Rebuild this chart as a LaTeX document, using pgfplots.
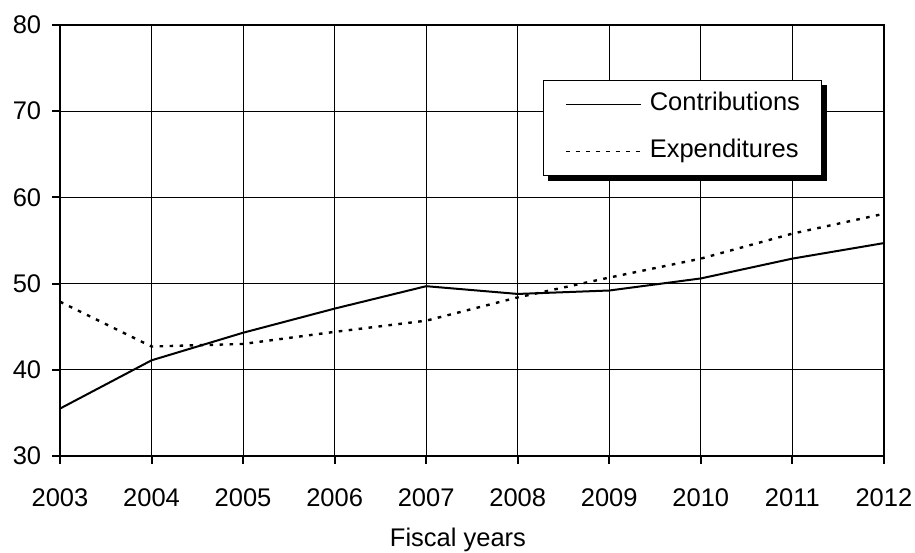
\documentclass[border=0pt]{standalone}
\usepackage{fontspec}
\setmainfont{Liberation Sans}
\usepackage{pgfplots}
\pgfplotsset{compat=1.18}
\usetikzlibrary{backgrounds}

\pgfplotstableread{
year contrib exp
2003 35.5 47.9
2004 41.1 42.7
2005 44.3 43.0
2006 47.1 44.4
2007 49.7 45.7
2008 48.8 48.4
2009 49.2 50.7
2010 50.6 52.9
2011 52.9 55.8
2012 54.7 58.1
}\fundtable

\begin{document}
\begin{tikzpicture}
\begin{axis}[
  at={(30pt,48pt)}, anchor=south west,
  scale only axis,
  width=412pt, height=215.5pt,
  xmin=2003, xmax=2012, ymin=30, ymax=80,
  xtick={2003,...,2012}, ytick={30,40,...,80},
  /pgf/number format/assume math mode=true,
  xticklabel style={/pgf/number format/1000 sep={}, anchor=base, inner sep=0pt, yshift=-21pt},
  yticklabel style={anchor=east, inner sep=0pt, xshift=-5.25pt},
  tick label style={font=\fontsize{12.75}{15}\selectfont},
  grid=major,
  major grid style={black, line width=0.5pt},
  axis line style={line width=1.1pt},
  tick style={black, line width=1pt},
  tick align=outside, major tick length=4pt,
  xtick pos=bottom, ytick pos=left,
  xlabel={Fiscal years},
  xlabel style={font=\fontsize{12.75}{15}\selectfont, at={(axis description cs:0.483,0)}, anchor=base, yshift=-45pt},
  legend style={name=leg, at={(0.586,0.873)}, anchor=north west,
    draw=black, line width=0.8pt, fill=white,
    inner xsep=10.75pt, inner ysep=6pt,
    font=\fontsize{12.75}{15}\selectfont,
    nodes={inner sep=0pt, text height=9pt, text depth=3pt},
    row sep=11.5pt, column sep=4pt},
  legend cell align=left,
  legend image code/.code={\draw[#1, line width=0.8pt] (0pt,0pt) -- (37.5pt,0pt);},
]
\addplot[black, line width=1pt] table[x=year, y=contrib] {\fundtable};
\addlegendentry{Contributions}
\addplot[black, line width=1.2pt, dash pattern=on 1.8pt off 3.2pt] table[x=year, y=exp] {\fundtable};
\addlegendentry{Expenditures}
\end{axis}
% legend shadow
\begin{scope}[on background layer]
\fill[black] ([shift={(2.5pt,-2.5pt)}]leg.south west) rectangle ([shift={(2.5pt,-2.5pt)}]leg.north east);
\end{scope}
\pgfresetboundingbox
\path[use as bounding box] (0,0) rectangle (457.5pt,276pt);
\end{tikzpicture}
\end{document}
